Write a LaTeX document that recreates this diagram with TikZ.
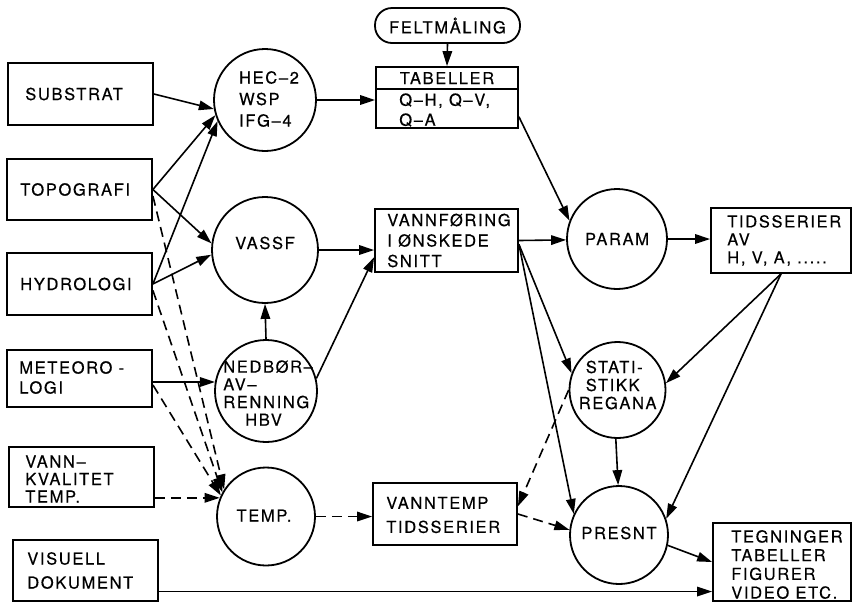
\documentclass[tikz,border=0pt]{standalone}
\usepackage{fontspec}
\setmainfont{TeX Gyre Heros}[LetterSpace=10,FakeBold=0.4]
\usetikzlibrary{arrows.meta,calc}
\begin{document}
\begin{tikzpicture}[x=1pt,y=-1pt,
  bx/.style={draw, line width=1.8pt, rectangle, inner sep=0pt},
  cir/.style={draw, line width=1.8pt, circle, inner sep=0pt},
  txt/.style={inner sep=0pt, align=left, font=\fontsize{16.5}{19}\selectfont},
  arr/.style={line width=1.6pt, -{Triangle[length=15pt,width=9.5pt]}},
  darr/.style={arr, line width=1.6pt, dash pattern=on 10pt off 6pt},
]
\useasboundingbox (0,0) rectangle (853,603);
% left column boxes
\node[bx, minimum width=145pt, minimum height=62pt] (sub) at (80.5,94) {};
\node[bx, minimum width=145pt, minimum height=61pt] (topo) at (79.5,189.5) {};
\node[bx, minimum width=145pt, minimum height=62pt] (hydro) at (79.5,284) {};
\node[bx, minimum width=145pt, minimum height=57pt] (meteo) at (79.5,378.5) {};
\node[bx, minimum width=145pt, minimum height=60pt] (vannk) at (81.5,477) {};
\node[bx, minimum width=145pt, minimum height=61pt] (vis) at (85.5,570.5) {};
\node[txt, anchor=west] (subt) at ($(sub.west)+(18,0)$) {SUBSTRAT};
\node[txt, anchor=west] (topot) at ($(topo.west)+(14,0)$) {TOPOGRAFI};
\node[txt, anchor=west] (hydrot) at ($(hydro.west)+(14,0)$) {HYDROLOGI};
\node[txt, anchor=west, font=\fontsize{16.5}{20}\selectfont] (meteot) at ($(meteo.west)+(13,-1)$) {METEORO -\\LOGI};
\node[txt, anchor=west, font=\fontsize{16.5}{17.5}\selectfont] (vannkt) at ($(vannk.west)+(17,2)$) {VANN–\\KVALITET\\TEMP.};
\node[txt, anchor=west, font=\fontsize{16.5}{24}\selectfont] (vist) at ($(vis.west)+(15,0)$) {VISUELL\\DOKUMENT};
% circles column 2
\node[cir, minimum size=102pt] (hec) at (265,100) {};
\node[cir, minimum size=106pt] (vassf) at (265,250) {};
\node[cir, minimum size=102pt] (ned) at (266,391) {};
\node[cir, minimum size=98pt] (temp) at (266,516.5) {};
\node[txt, font=\fontsize{16.5}{21.5}\selectfont] (hect) at ($(hec)+(4,-1)$) {HEC–2\\WSP\\IFG–4};
\node[txt] (vassft) at ($(vassf)+(0,-7)$) {VASSF};
\node[txt, anchor=west, font=\fontsize{16.5}{17.7}\selectfont] (nedt) at ($(ned.west)+(9,2)$) {NEDBØR–\\AV–\\RENNING\\\hspace*{22pt}HBV};
\node[txt] (tempt) at ($(temp)+(-2,-1)$) {TEMP.};
% middle boxes
\node[bx, rounded corners=17pt, minimum width=145pt, minimum height=35pt] (felt) at (447.5,25.5) {};
\node[txt] (feltt) at (felt) {FELTMÅLING};
\node[bx, minimum width=142pt, minimum height=61pt] (tab) at (447,97.5) {};
\draw[line width=1.8pt] ($(tab.north west)+(0,23)$) -- ($(tab.north east)+(0,23)$);
\node[txt] (tabh) at ($(tab.north)+(0,12)$) {TABELLER};
\node[txt, anchor=west, font=\fontsize{16.5}{20}\selectfont] (tabq) at ($(tab.west)+(24,12.5)$) {Q–H, Q–V,\\Q–A};
\node[bx, minimum width=143pt, minimum height=63pt] (vannf) at (446.5,240.5) {};
\node[txt, anchor=west, font=\fontsize{16.5}{20.5}\selectfont] (vannft) at ($(vannf.west)+(13,0)$) {VANNFØRING\\I ØNSKEDE\\SNITT};
\node[bx, minimum width=144pt, minimum height=62pt] (vannt) at (445,514) {};
\node[txt, anchor=west, font=\fontsize{16.5}{24}\selectfont] (vanntt) at ($(vannt.west)+(14,1)$) {VANNTEMP\\TIDSSERIER};
% right circles
\node[cir, minimum size=100pt] (param) at (617,239) {};
\node[cir, minimum size=96pt] (stat) at (617.5,390) {};
\node[cir, minimum size=98pt] (presnt) at (619,535) {};
\node[txt] (paramt) at (param) {PARAM};
\node[txt, anchor=west, font=\fontsize{16.5}{18}\selectfont] (statt) at ($(stat.west)+(10,-5)$) {\hspace*{7pt}STATI-\\\hspace*{7pt}STIKK\\REGANA};
\node[txt] (presntt) at ($(presnt)+(0,-2)$) {PRESNT};
% right boxes
\node[bx, minimum width=140pt, minimum height=65pt] (tids) at (781,240.5) {};
\node[txt, anchor=west, font=\fontsize{16.5}{18}\selectfont] (tidst) at ($(tids.west)+(17,0)$) {TIDSSERIER\\AV\\H, V, A, .....};
\node[bx, minimum width=138pt, minimum height=78pt] (tegn) at (782,562) {};
\node[txt, anchor=west, font=\fontsize{16.5}{18.7}\selectfont] (tegnt) at ($(tegn.west)+(19,2.5)$) {TEGNINGER\\TABELLER\\FIGURER\\VIDEO ETC.};
% connectors
\draw[arr] (sub.east) -- (hec.190);
\draw[arr] (topo.east) -- (hec.197);
\draw[arr] (hydro.east) -- (hec.204);
\draw[arr] (topo.east) -- (vassf.173);
\draw[arr] (hydro.east) -- (vassf.185);
\draw[arr] (ned.90) -- (vassf.270);
\draw[arr] (meteo.east |- ned.170) -- (ned.170);
\draw[arr] (ned.14) -- (vannf.193);
\draw[arr] (hec.east) -- (hec.east -| tab.west);
\draw[arr] (vassf.east) -- (vassf.east -| vannf.west);
\draw[arr] (felt.south) -- (tab.north);
\draw[arr] (tab.-15) -- (param.159);
\draw[arr] (vannf.east) -- (param.181);
\draw[arr] (vannf.-3) -- (stat.160);
\draw[arr] (vannf.-3) -- (presnt.155);
\draw[darr] (stat.west) -- (vannt.6);
\draw[darr] (vannt.east) -- (presnt.174);
\draw[darr] (temp.east) -- (temp.east -| vannt.west);
\draw[darr] (vannk.east |- temp.158) -- (temp.158);
\draw[arr] (vis.-16.5) -- (vis.-16.5 -| tegn.west);
\draw[arr] (param.east) -- (param.east -| tids.west);
\draw[arr] (tids.south) -- (stat.8);
\draw[arr] (tids.south) -- (presnt.19);
\draw[arr] (stat.268) -- (presnt.91);
\draw[arr] (presnt.-12) -- (tegn.west);
\draw[darr] (topo.-5) -- (temp.147);
\draw[darr] (hydro.-5) -- (temp.151);
\draw[darr] (meteo.-5) -- (temp.155);
\end{tikzpicture}
\end{document}
